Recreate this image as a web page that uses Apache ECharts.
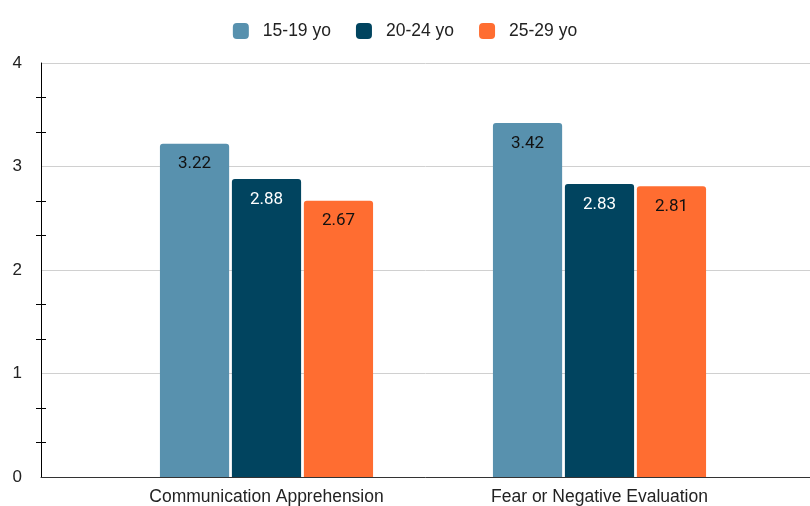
<!DOCTYPE html>
<html>
<head>
<meta charset="utf-8">
<script src="https://cdn.jsdelivr.net/npm/echarts@6/dist/echarts.min.js"></script>
<style>
  html, body { margin: 0; padding: 0; background: #fff; }
  #main { width: 810px; height: 506px; }
</style>
</head>
<body>
<div id="main"></div>
<script>
var categories = ['Communication Apprehension', 'Fear or Negative Evaluation'];
var seriesNames = ['15-19 yo', '20-24 yo', '25-29 yo'];
var values15 = [3.22, 3.42];
var values20 = [2.88, 2.83];
var values25 = [2.67, 2.81];
var yTicks = [0, 1, 2, 3, 4];
var colors = ['#5891ae', '#01445f', '#ff6d31'];
var labelColors = ['#111', '#fff', '#111'];

var myChart = echarts.init(document.getElementById('main'));

// bars live in grid 1, frame (axis line, split lines, ticks) lives in grid 0
function makeSeries(name, data, i) {
    return {
        name: name,
        type: 'bar',
        xAxisIndex: 1,
        yAxisIndex: 2,
        data: data,
        barGap: '4%',
        barCategoryGap: '36%',
        itemStyle: { color: colors[i], borderRadius: [3, 3, 0, 0] },
        label: {
            show: true,
            position: 'insideTop',
            distance: 12,
            color: labelColors[i],
            fontFamily: 'Roboto',
            fontSize: 17
        }
    };
}

var yMin = yTicks[0];
var yMax = yTicks[yTicks.length - 1];

var option = {
    animation: false,
    color: colors,
    legend: {
        top: 17,
        left: 'center',
        itemWidth: 16,
        itemHeight: 16,
        itemGap: 25,
        icon: 'roundRect',
        textStyle: { fontFamily: 'Liberation Sans', fontSize: 17.5, color: '#222', padding: [0, 0, 0, 9] },
        data: seriesNames
    },
    grid: [
        { left: 41, right: 0, top: 63, bottom: 29 },
        { left: 100, right: 44, top: 63, bottom: 29 }
    ],
    xAxis: [{
        gridIndex: 0,
        type: 'value',
        min: 0,
        max: 1,
        axisLine: { show: true, onZero: false, lineStyle: { color: '#333', width: 1 } },
        axisTick: { show: false },
        axisLabel: { show: false },
        splitLine: { show: false }
    }, {
        gridIndex: 1,
        type: 'category',
        data: categories,
        axisLine: { show: false },
        axisTick: { show: false },
        axisLabel: { fontFamily: 'Liberation Sans', fontSize: 17.5, color: '#222', margin: 11 }
    }],
    yAxis: [{
        gridIndex: 0,
        type: 'value',
        min: yMin,
        max: yMax,
        interval: 1,
        axisLine: { show: true, lineStyle: { color: '#000', width: 1 } },
        axisTick: { show: false },
        axisLabel: { fontFamily: 'Liberation Sans', fontSize: 17, color: '#222', margin: 19 },
        splitLine: { lineStyle: { color: '#d0d0d0' } }
    }, {
        gridIndex: 0,
        type: 'value',
        position: 'left',
        offset: -5,
        min: yMin,
        max: yMax,
        interval: 1,
        axisLine: { show: false },
        axisTick: { show: false },
        minorTick: { show: true, splitNumber: 3, length: 10, lineStyle: { color: '#000', width: 1 } },
        axisLabel: { show: false },
        splitLine: { show: false }
    }, {
        gridIndex: 1,
        type: 'value',
        min: yMin,
        max: yMax,
        interval: 1,
        show: false
    }],
    series: [
        makeSeries(seriesNames[0], values15, 0),
        makeSeries(seriesNames[1], values20, 1),
        makeSeries(seriesNames[2], values25, 2)
    ]
};
myChart.setOption(option);
</script>
</body>
</html>
